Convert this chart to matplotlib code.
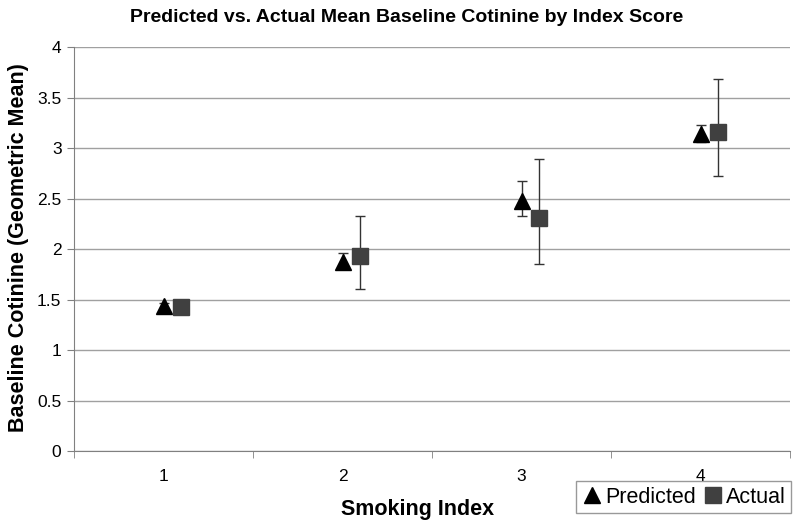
import matplotlib
matplotlib.use("Agg")
import matplotlib.pyplot as plt
from matplotlib.lines import Line2D
import numpy as np

plt.rcParams['font.family'] = ['Liberation Sans', 'DejaVu Sans']

categories = ["1", "2", "3", "4"]
predicted = [1.44, 1.87, 2.48, 3.14]
predicted_lo = [1.41, 1.80, 2.33, 3.06]
predicted_hi = [1.47, 1.96, 2.67, 3.23]
actual = [1.43, 1.93, 2.31, 3.16]
actual_lo = [1.37, 1.61, 1.85, 2.72]
actual_hi = [1.49, 2.33, 2.89, 3.68]

fig = plt.figure(figsize=(8, 5.29), dpi=100)
ax = fig.add_axes([0.0925, 0.147, 0.895, 0.764])

x = np.arange(1, len(categories) + 1)
pe = [np.array(predicted) - np.array(predicted_lo), np.array(predicted_hi) - np.array(predicted)]
ae = [np.array(actual) - np.array(actual_lo), np.array(actual_hi) - np.array(actual)]

ax.errorbar(x, predicted, yerr=pe, fmt='^', color='black', ms=11, ecolor='#333333',
            elinewidth=1, capsize=3.5, capthick=1, zorder=3)
ax.errorbar(x + 0.1, actual, yerr=ae, fmt='s', color='#404040', ms=11, ecolor='#333333',
            elinewidth=1, capsize=3.5, capthick=1, zorder=3)

ax.set_xlim(0.5, 4.5)
ax.set_ylim(0, 4)
ax.set_yticks(np.arange(0, 4.01, 0.5))
ax.set_yticklabels(['0', '0.5', '1', '1.5', '2', '2.5', '3', '3.5', '4'], fontsize=12.5)
ax.set_xticks(x)
ax.set_xticklabels(categories, fontsize=12.5)
ax.tick_params(axis='x', length=0, pad=13)
ax.set_xticks(np.arange(0.5, 4.6, 1), minor=True)
ax.tick_params(axis='x', which='minor', length=5, color='#808080')
ax.tick_params(axis='y', length=5, color='#808080', pad=4)

ax.grid(axis='y', color='#a0a0a0', linewidth=1)
ax.set_axisbelow(True)
for s in ['top', 'right']:
    ax.spines[s].set_visible(False)
for s in ['left', 'bottom']:
    ax.spines[s].set_color('#808080')

fig.text(0.508, 1 - 18 / 529, 'Predicted vs. Actual Mean Baseline Cotinine by Index Score',
         fontsize=14, fontweight='bold', ha='center', va='center')
fig.text(418 / 800, 1 - 509 / 529, 'Smoking Index', fontsize=15.5, fontweight='bold',
         ha='center', va='center')
fig.text(19 / 800, 1 - 248 / 529, 'Baseline Cotinine (Geometric Mean)', fontsize=15.5,
         fontweight='bold', ha='center', va='center', rotation=90)

handles = [Line2D([], [], marker='^', color='black', ls='none', ms=12),
           Line2D([], [], marker='s', color='#404040', ls='none', ms=12)]
leg = fig.legend(handles, ['Predicted', 'Actual'], loc='lower right',
                 bbox_to_anchor=(791 / 800, 16 / 529), ncol=2, fontsize=15.5,
                 frameon=True, fancybox=False, edgecolor='#808080', handletextpad=0.1,
                 columnspacing=0.3, borderpad=0.25, handlelength=1.0, borderaxespad=0)
leg.get_frame().set_linewidth(1)

fig.savefig('out.png', dpi=100)
